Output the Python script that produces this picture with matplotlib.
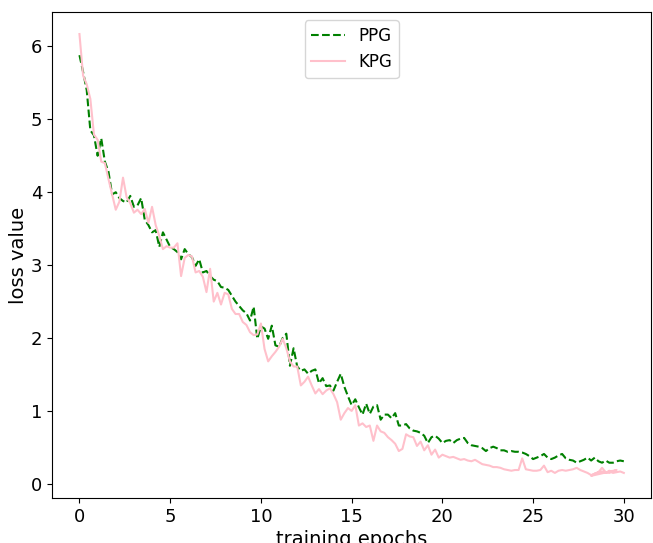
import numpy as np
import matplotlib
matplotlib.use("Agg")
from matplotlib import pyplot as plt

# loss per training epoch (grid of 0.2 epochs)
ppg_loss = [5.88, 5.65, 5.40, 4.85, 4.78, 4.50, 4.74, 4.42, 4.28, 3.97,
            4.00, 3.92, 3.88, 3.86, 3.95, 3.80, 3.82, 3.92, 3.62, 3.55,
            3.45, 3.48, 3.25, 3.45, 3.35, 3.25, 3.22, 3.18, 3.08, 3.22,
            3.15, 3.11, 2.99, 3.08, 2.90, 2.92, 2.85, 2.80, 2.78, 2.70,
            2.69, 2.66, 2.58, 2.50, 2.44, 2.38, 2.34, 2.24, 2.43, 1.99,
            2.16, 2.13, 1.99, 2.17, 1.90, 1.88, 2.00, 2.06, 1.62, 1.86,
            1.61, 1.55, 1.57, 1.51, 1.55, 1.57, 1.38, 1.45, 1.34, 1.35,
            1.28, 1.40, 1.51, 1.33, 1.20, 1.08, 1.16, 1.05, 0.95, 1.10,
            0.96, 1.06, 1.08, 0.88, 0.95, 0.95, 0.90, 0.97, 0.80, 0.80,
            0.82, 0.76, 0.73, 0.72, 0.70, 0.66, 0.56, 0.64, 0.66, 0.62,
            0.56, 0.59, 0.60, 0.56, 0.60, 0.62, 0.63, 0.56, 0.53, 0.52,
            0.51, 0.49, 0.45, 0.49, 0.51, 0.49, 0.46, 0.46, 0.44, 0.45,
            0.44, 0.44, 0.43, 0.41, 0.38, 0.34, 0.36, 0.38, 0.41, 0.36,
            0.34, 0.36, 0.39, 0.41, 0.35, 0.33, 0.32, 0.29, 0.31, 0.33,
            0.36, 0.32, 0.36, 0.31, 0.29, 0.32, 0.29, 0.29, 0.31, 0.32,
            0.31]

kpg_loss = [6.17, 5.60, 5.48, 5.28, 4.79, 4.72, 4.42, 4.40, 4.18, 3.97,
            3.76, 3.87, 4.20, 3.93, 3.85, 3.72, 3.76, 3.70, 3.77, 3.58,
            3.80, 3.55, 3.40, 3.22, 3.26, 3.24, 3.24, 3.30, 2.85, 3.10,
            3.14, 3.12, 2.90, 2.92, 2.84, 2.63, 2.95, 2.50, 2.62, 2.46,
            2.62, 2.60, 2.40, 2.33, 2.33, 2.22, 2.18, 2.08, 2.04, 2.05,
            2.20, 1.85, 1.68, 1.75, 1.81, 1.88, 1.99, 1.86, 1.68, 1.61,
            1.61, 1.35, 1.40, 1.47, 1.35, 1.24, 1.30, 1.23, 1.28, 1.31,
            1.23, 1.12, 0.88, 0.97, 1.04, 1.00, 1.08, 0.80, 0.83, 0.78,
            0.80, 0.59, 0.80, 0.72, 0.70, 0.64, 0.60, 0.55, 0.45, 0.48,
            0.68, 0.65, 0.64, 0.52, 0.58, 0.46, 0.53, 0.40, 0.47, 0.36,
            0.40, 0.38, 0.36, 0.37, 0.35, 0.33, 0.34, 0.32, 0.31, 0.33,
            0.30, 0.27, 0.26, 0.25, 0.23, 0.23, 0.22, 0.20, 0.19, 0.18,
            0.19, 0.19, 0.35, 0.20, 0.19, 0.18, 0.18, 0.19, 0.25, 0.16,
            0.18, 0.15, 0.18, 0.19, 0.18, 0.19, 0.20, 0.22, 0.19, 0.17,
            0.15, 0.12, 0.14, 0.16, 0.22, 0.16, 0.15, 0.17, 0.19]
# KPG log restarts around epoch 28.2 and runs again to 30
kpg_tail_loss = [0.11, 0.14, 0.16, 0.17, 0.15, 0.18, 0.15, 0.16, 0.17, 0.15]

ppg_epochs = np.linspace(0, 30, len(ppg_loss))
kpg_epochs = np.linspace(0, 29.6, len(kpg_loss))
kpg_tail_epochs = np.linspace(28.2, 30, len(kpg_tail_loss))

kpg_x = np.concatenate([kpg_epochs, kpg_tail_epochs])
kpg_y = np.concatenate([kpg_loss, kpg_tail_loss])

fig = plt.figure(figsize=(6.53, 5.43), dpi=100)
ax = fig.add_subplot(111)
fig.subplots_adjust(left=0.080, right=0.997, top=0.978, bottom=0.083)

ax.plot(ppg_epochs, ppg_loss, '--', color='green', label='PPG')
ax.plot(kpg_x, kpg_y, '-', color='pink', label='KPG')

ax.set_xlabel('training epochs', fontsize=14, labelpad=3)
ax.set_ylabel('loss value', fontsize=14, labelpad=2)
ax.tick_params(labelsize=13)
ax.legend(loc='upper center', fontsize=12)

fig.savefig('out.png', dpi=100)
